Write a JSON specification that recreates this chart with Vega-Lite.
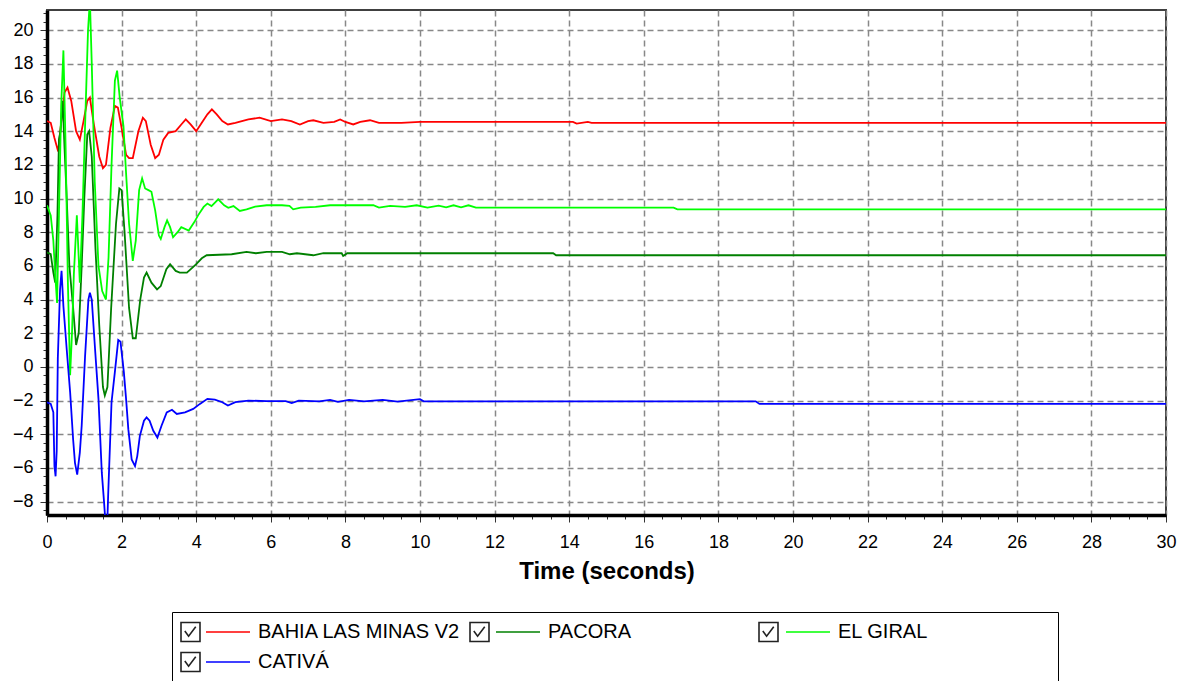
{
  "$schema": "https://vega.github.io/schema/vega-lite/v6.json",
  "width": 1119,
  "height": 505,
  "autosize": {"type": "none"},
  "padding": {"left": 47, "top": 10, "right": 16, "bottom": 166},
  "background": "white",
  "config": {
    "font": "Liberation Sans",
    "view": {"stroke": "#404040", "strokeWidth": 2},
    "axis": {
      "labelFont": "Liberation Sans",
      "labelFontSize": 18,
      "labelColor": "black",
      "titleFont": "Liberation Sans",
      "titleColor": "black",
      "domainColor": "black",
      "domainWidth": 3.5,
      "tickColor": "#333333",
      "tickWidth": 1,
      "gridColor": "#888888",
      "gridDash": [6, 4],
      "gridWidth": 1.5,
      "labelFlush": false,
      "labelOverlap": false
    }
  },
  "datasets": {
    "curves": [
      {"series": "BAHIA LAS MINAS V2", "t": 0, "v": 14.6},
      {"series": "BAHIA LAS MINAS V2", "t": 0.1, "v": 14.5},
      {"series": "BAHIA LAS MINAS V2", "t": 0.2, "v": 13.6},
      {"series": "BAHIA LAS MINAS V2", "t": 0.3, "v": 12.8},
      {"series": "BAHIA LAS MINAS V2", "t": 0.38, "v": 14.5},
      {"series": "BAHIA LAS MINAS V2", "t": 0.47, "v": 16.3},
      {"series": "BAHIA LAS MINAS V2", "t": 0.55, "v": 16.6},
      {"series": "BAHIA LAS MINAS V2", "t": 0.65, "v": 15.8},
      {"series": "BAHIA LAS MINAS V2", "t": 0.78, "v": 14.0},
      {"series": "BAHIA LAS MINAS V2", "t": 0.88, "v": 13.5},
      {"series": "BAHIA LAS MINAS V2", "t": 0.98, "v": 14.6},
      {"series": "BAHIA LAS MINAS V2", "t": 1.08, "v": 15.8},
      {"series": "BAHIA LAS MINAS V2", "t": 1.15, "v": 16.0},
      {"series": "BAHIA LAS MINAS V2", "t": 1.25, "v": 14.5},
      {"series": "BAHIA LAS MINAS V2", "t": 1.4, "v": 12.5},
      {"series": "BAHIA LAS MINAS V2", "t": 1.5, "v": 11.8},
      {"series": "BAHIA LAS MINAS V2", "t": 1.58, "v": 12.0},
      {"series": "BAHIA LAS MINAS V2", "t": 1.7, "v": 14.2},
      {"series": "BAHIA LAS MINAS V2", "t": 1.82, "v": 15.5},
      {"series": "BAHIA LAS MINAS V2", "t": 1.9, "v": 15.4},
      {"series": "BAHIA LAS MINAS V2", "t": 2.0, "v": 14.2},
      {"series": "BAHIA LAS MINAS V2", "t": 2.12, "v": 12.6},
      {"series": "BAHIA LAS MINAS V2", "t": 2.2, "v": 12.4},
      {"series": "BAHIA LAS MINAS V2", "t": 2.3, "v": 12.4},
      {"series": "BAHIA LAS MINAS V2", "t": 2.45, "v": 14.0},
      {"series": "BAHIA LAS MINAS V2", "t": 2.57, "v": 14.8},
      {"series": "BAHIA LAS MINAS V2", "t": 2.65, "v": 14.6},
      {"series": "BAHIA LAS MINAS V2", "t": 2.78, "v": 13.2},
      {"series": "BAHIA LAS MINAS V2", "t": 2.9, "v": 12.4},
      {"series": "BAHIA LAS MINAS V2", "t": 3.0, "v": 12.6},
      {"series": "BAHIA LAS MINAS V2", "t": 3.12, "v": 13.5},
      {"series": "BAHIA LAS MINAS V2", "t": 3.25, "v": 13.9},
      {"series": "BAHIA LAS MINAS V2", "t": 3.45, "v": 14.0},
      {"series": "BAHIA LAS MINAS V2", "t": 3.6, "v": 14.4},
      {"series": "BAHIA LAS MINAS V2", "t": 3.72, "v": 14.7},
      {"series": "BAHIA LAS MINAS V2", "t": 3.85, "v": 14.4},
      {"series": "BAHIA LAS MINAS V2", "t": 4.0, "v": 14.0},
      {"series": "BAHIA LAS MINAS V2", "t": 4.15, "v": 14.5},
      {"series": "BAHIA LAS MINAS V2", "t": 4.3, "v": 15.0},
      {"series": "BAHIA LAS MINAS V2", "t": 4.42, "v": 15.3},
      {"series": "BAHIA LAS MINAS V2", "t": 4.55, "v": 15.0},
      {"series": "BAHIA LAS MINAS V2", "t": 4.7, "v": 14.6},
      {"series": "BAHIA LAS MINAS V2", "t": 4.85, "v": 14.4},
      {"series": "BAHIA LAS MINAS V2", "t": 5.05, "v": 14.5},
      {"series": "BAHIA LAS MINAS V2", "t": 5.4, "v": 14.7},
      {"series": "BAHIA LAS MINAS V2", "t": 5.7, "v": 14.8},
      {"series": "BAHIA LAS MINAS V2", "t": 6.0, "v": 14.6},
      {"series": "BAHIA LAS MINAS V2", "t": 6.3, "v": 14.7},
      {"series": "BAHIA LAS MINAS V2", "t": 6.55, "v": 14.6},
      {"series": "BAHIA LAS MINAS V2", "t": 6.78, "v": 14.4},
      {"series": "BAHIA LAS MINAS V2", "t": 7.0, "v": 14.6},
      {"series": "BAHIA LAS MINAS V2", "t": 7.14, "v": 14.65},
      {"series": "BAHIA LAS MINAS V2", "t": 7.41, "v": 14.5},
      {"series": "BAHIA LAS MINAS V2", "t": 7.7, "v": 14.55},
      {"series": "BAHIA LAS MINAS V2", "t": 7.86, "v": 14.7},
      {"series": "BAHIA LAS MINAS V2", "t": 8.0, "v": 14.55},
      {"series": "BAHIA LAS MINAS V2", "t": 8.21, "v": 14.4},
      {"series": "BAHIA LAS MINAS V2", "t": 8.4, "v": 14.55},
      {"series": "BAHIA LAS MINAS V2", "t": 8.66, "v": 14.65},
      {"series": "BAHIA LAS MINAS V2", "t": 8.9, "v": 14.5},
      {"series": "BAHIA LAS MINAS V2", "t": 9.5, "v": 14.5},
      {"series": "BAHIA LAS MINAS V2", "t": 10.0, "v": 14.55},
      {"series": "BAHIA LAS MINAS V2", "t": 14.1, "v": 14.55},
      {"series": "BAHIA LAS MINAS V2", "t": 14.2, "v": 14.45},
      {"series": "BAHIA LAS MINAS V2", "t": 14.5, "v": 14.55},
      {"series": "BAHIA LAS MINAS V2", "t": 14.6, "v": 14.5},
      {"series": "BAHIA LAS MINAS V2", "t": 30, "v": 14.5},

      {"series": "PACORA", "t": 0, "v": 6.8},
      {"series": "PACORA", "t": 0.1, "v": 6.7},
      {"series": "PACORA", "t": 0.17, "v": 5.6},
      {"series": "PACORA", "t": 0.22, "v": 5.0},
      {"series": "PACORA", "t": 0.28, "v": 9.0},
      {"series": "PACORA", "t": 0.32, "v": 13.5},
      {"series": "PACORA", "t": 0.36, "v": 14.0},
      {"series": "PACORA", "t": 0.42, "v": 15.8},
      {"series": "PACORA", "t": 0.47, "v": 13.0},
      {"series": "PACORA", "t": 0.52, "v": 10.5},
      {"series": "PACORA", "t": 0.6, "v": 6.0},
      {"series": "PACORA", "t": 0.7, "v": 3.5},
      {"series": "PACORA", "t": 0.78, "v": 1.3},
      {"series": "PACORA", "t": 0.85, "v": 2.0},
      {"series": "PACORA", "t": 0.93, "v": 6.0},
      {"series": "PACORA", "t": 1.0, "v": 10.0},
      {"series": "PACORA", "t": 1.08, "v": 13.8},
      {"series": "PACORA", "t": 1.13, "v": 14.0},
      {"series": "PACORA", "t": 1.2, "v": 12.5},
      {"series": "PACORA", "t": 1.3, "v": 7.0},
      {"series": "PACORA", "t": 1.4, "v": 2.5},
      {"series": "PACORA", "t": 1.5, "v": -1.2},
      {"series": "PACORA", "t": 1.55, "v": -1.7},
      {"series": "PACORA", "t": 1.62, "v": -1.2},
      {"series": "PACORA", "t": 1.72, "v": 3.5},
      {"series": "PACORA", "t": 1.85, "v": 8.5},
      {"series": "PACORA", "t": 1.94, "v": 10.6},
      {"series": "PACORA", "t": 2.0, "v": 10.5},
      {"series": "PACORA", "t": 2.08, "v": 8.0},
      {"series": "PACORA", "t": 2.2, "v": 3.5},
      {"series": "PACORA", "t": 2.3, "v": 1.7},
      {"series": "PACORA", "t": 2.38, "v": 1.7},
      {"series": "PACORA", "t": 2.5, "v": 4.0},
      {"series": "PACORA", "t": 2.6, "v": 5.3},
      {"series": "PACORA", "t": 2.67, "v": 5.6},
      {"series": "PACORA", "t": 2.8, "v": 5.0},
      {"series": "PACORA", "t": 2.95, "v": 4.6},
      {"series": "PACORA", "t": 3.05, "v": 4.8},
      {"series": "PACORA", "t": 3.2, "v": 5.8},
      {"series": "PACORA", "t": 3.3, "v": 6.1},
      {"series": "PACORA", "t": 3.45, "v": 5.7},
      {"series": "PACORA", "t": 3.56, "v": 5.6},
      {"series": "PACORA", "t": 3.75, "v": 5.6},
      {"series": "PACORA", "t": 3.9, "v": 5.9},
      {"series": "PACORA", "t": 4.0, "v": 6.1},
      {"series": "PACORA", "t": 4.15, "v": 6.45},
      {"series": "PACORA", "t": 4.28, "v": 6.63},
      {"series": "PACORA", "t": 4.95, "v": 6.69},
      {"series": "PACORA", "t": 5.35, "v": 6.83},
      {"series": "PACORA", "t": 5.6, "v": 6.75},
      {"series": "PACORA", "t": 5.89, "v": 6.83},
      {"series": "PACORA", "t": 6.3, "v": 6.83},
      {"series": "PACORA", "t": 6.51, "v": 6.69},
      {"series": "PACORA", "t": 6.7, "v": 6.75},
      {"series": "PACORA", "t": 7.14, "v": 6.63},
      {"series": "PACORA", "t": 7.41, "v": 6.75},
      {"series": "PACORA", "t": 7.9, "v": 6.75},
      {"series": "PACORA", "t": 7.94, "v": 6.59},
      {"series": "PACORA", "t": 8.05, "v": 6.75},
      {"series": "PACORA", "t": 13.57, "v": 6.75},
      {"series": "PACORA", "t": 13.65, "v": 6.63},
      {"series": "PACORA", "t": 30, "v": 6.63},

      {"series": "EL GIRAL", "t": 0, "v": 9.6},
      {"series": "EL GIRAL", "t": 0.1, "v": 9.0},
      {"series": "EL GIRAL", "t": 0.17, "v": 7.5},
      {"series": "EL GIRAL", "t": 0.22, "v": 5.5},
      {"series": "EL GIRAL", "t": 0.27, "v": 3.8},
      {"series": "EL GIRAL", "t": 0.32, "v": 9.0},
      {"series": "EL GIRAL", "t": 0.38, "v": 15.5},
      {"series": "EL GIRAL", "t": 0.44, "v": 18.8},
      {"series": "EL GIRAL", "t": 0.5, "v": 13.0},
      {"series": "EL GIRAL", "t": 0.56, "v": 5.0},
      {"series": "EL GIRAL", "t": 0.62, "v": -0.5},
      {"series": "EL GIRAL", "t": 0.67, "v": 2.0},
      {"series": "EL GIRAL", "t": 0.72, "v": 5.5},
      {"series": "EL GIRAL", "t": 0.8, "v": 9.0},
      {"series": "EL GIRAL", "t": 0.88, "v": 5.0},
      {"series": "EL GIRAL", "t": 0.95, "v": 9.0},
      {"series": "EL GIRAL", "t": 1.03, "v": 15.0},
      {"series": "EL GIRAL", "t": 1.1, "v": 20.0},
      {"series": "EL GIRAL", "t": 1.15, "v": 21.8},
      {"series": "EL GIRAL", "t": 1.2, "v": 18.0},
      {"series": "EL GIRAL", "t": 1.28, "v": 11.0},
      {"series": "EL GIRAL", "t": 1.38, "v": 6.0},
      {"series": "EL GIRAL", "t": 1.48, "v": 4.5},
      {"series": "EL GIRAL", "t": 1.58, "v": 4.0},
      {"series": "EL GIRAL", "t": 1.65, "v": 6.5},
      {"series": "EL GIRAL", "t": 1.73, "v": 12.0},
      {"series": "EL GIRAL", "t": 1.82, "v": 17.0},
      {"series": "EL GIRAL", "t": 1.88, "v": 17.6},
      {"series": "EL GIRAL", "t": 1.95, "v": 16.0},
      {"series": "EL GIRAL", "t": 2.05, "v": 14.3},
      {"series": "EL GIRAL", "t": 2.12, "v": 11.5},
      {"series": "EL GIRAL", "t": 2.2, "v": 8.5},
      {"series": "EL GIRAL", "t": 2.3, "v": 6.3},
      {"series": "EL GIRAL", "t": 2.38, "v": 7.5},
      {"series": "EL GIRAL", "t": 2.47, "v": 10.5},
      {"series": "EL GIRAL", "t": 2.55, "v": 11.2},
      {"series": "EL GIRAL", "t": 2.63, "v": 10.6},
      {"series": "EL GIRAL", "t": 2.72, "v": 10.5},
      {"series": "EL GIRAL", "t": 2.8, "v": 10.4},
      {"series": "EL GIRAL", "t": 2.9, "v": 9.3},
      {"series": "EL GIRAL", "t": 3.0, "v": 7.8},
      {"series": "EL GIRAL", "t": 3.05, "v": 7.6},
      {"series": "EL GIRAL", "t": 3.15, "v": 8.3},
      {"series": "EL GIRAL", "t": 3.22, "v": 8.7},
      {"series": "EL GIRAL", "t": 3.3, "v": 8.3},
      {"series": "EL GIRAL", "t": 3.38, "v": 7.7},
      {"series": "EL GIRAL", "t": 3.5, "v": 8.0},
      {"series": "EL GIRAL", "t": 3.6, "v": 8.3},
      {"series": "EL GIRAL", "t": 3.8, "v": 8.1},
      {"series": "EL GIRAL", "t": 3.95, "v": 8.6},
      {"series": "EL GIRAL", "t": 4.05, "v": 9.0},
      {"series": "EL GIRAL", "t": 4.2, "v": 9.5},
      {"series": "EL GIRAL", "t": 4.3, "v": 9.7},
      {"series": "EL GIRAL", "t": 4.41, "v": 9.55},
      {"series": "EL GIRAL", "t": 4.59, "v": 9.95},
      {"series": "EL GIRAL", "t": 4.75, "v": 9.6},
      {"series": "EL GIRAL", "t": 4.86, "v": 9.45},
      {"series": "EL GIRAL", "t": 5.0, "v": 9.55},
      {"series": "EL GIRAL", "t": 5.17, "v": 9.26},
      {"series": "EL GIRAL", "t": 5.35, "v": 9.36},
      {"series": "EL GIRAL", "t": 5.58, "v": 9.52},
      {"series": "EL GIRAL", "t": 5.89, "v": 9.6},
      {"series": "EL GIRAL", "t": 6.3, "v": 9.6},
      {"series": "EL GIRAL", "t": 6.5, "v": 9.56},
      {"series": "EL GIRAL", "t": 6.6, "v": 9.36},
      {"series": "EL GIRAL", "t": 6.8, "v": 9.46},
      {"series": "EL GIRAL", "t": 7.2, "v": 9.5},
      {"series": "EL GIRAL", "t": 7.59, "v": 9.6},
      {"series": "EL GIRAL", "t": 8.75, "v": 9.6},
      {"series": "EL GIRAL", "t": 8.9, "v": 9.46},
      {"series": "EL GIRAL", "t": 9.2, "v": 9.56},
      {"series": "EL GIRAL", "t": 9.6, "v": 9.5},
      {"series": "EL GIRAL", "t": 9.91, "v": 9.6},
      {"series": "EL GIRAL", "t": 10.2, "v": 9.46},
      {"series": "EL GIRAL", "t": 10.5, "v": 9.58},
      {"series": "EL GIRAL", "t": 10.7, "v": 9.48},
      {"series": "EL GIRAL", "t": 10.9, "v": 9.6},
      {"series": "EL GIRAL", "t": 11.1, "v": 9.48},
      {"series": "EL GIRAL", "t": 11.3, "v": 9.6},
      {"series": "EL GIRAL", "t": 11.5, "v": 9.46},
      {"series": "EL GIRAL", "t": 16.8, "v": 9.46},
      {"series": "EL GIRAL", "t": 16.9, "v": 9.36},
      {"series": "EL GIRAL", "t": 30, "v": 9.36},

      {"series": "CATIVÁ", "t": 0, "v": -2.1},
      {"series": "CATIVÁ", "t": 0.1, "v": -2.2},
      {"series": "CATIVÁ", "t": 0.17, "v": -2.7},
      {"series": "CATIVÁ", "t": 0.2, "v": -5.9},
      {"series": "CATIVÁ", "t": 0.23, "v": -6.5},
      {"series": "CATIVÁ", "t": 0.26, "v": -5.0},
      {"series": "CATIVÁ", "t": 0.29, "v": 0.5},
      {"series": "CATIVÁ", "t": 0.35, "v": 4.6},
      {"series": "CATIVÁ", "t": 0.39, "v": 5.7},
      {"series": "CATIVÁ", "t": 0.44, "v": 3.6},
      {"series": "CATIVÁ", "t": 0.53, "v": 1.0},
      {"series": "CATIVÁ", "t": 0.62, "v": -1.5},
      {"series": "CATIVÁ", "t": 0.7, "v": -4.3},
      {"series": "CATIVÁ", "t": 0.75, "v": -5.7},
      {"series": "CATIVÁ", "t": 0.81, "v": -6.4},
      {"series": "CATIVÁ", "t": 0.88, "v": -5.1},
      {"series": "CATIVÁ", "t": 0.93, "v": -3.5},
      {"series": "CATIVÁ", "t": 1.02, "v": 0.6},
      {"series": "CATIVÁ", "t": 1.11, "v": 4.0},
      {"series": "CATIVÁ", "t": 1.15, "v": 4.4},
      {"series": "CATIVÁ", "t": 1.2, "v": 4.0},
      {"series": "CATIVÁ", "t": 1.29, "v": 1.0},
      {"series": "CATIVÁ", "t": 1.38, "v": -1.9},
      {"series": "CATIVÁ", "t": 1.47, "v": -6.3},
      {"series": "CATIVÁ", "t": 1.53, "v": -8.05},
      {"series": "CATIVÁ", "t": 1.56, "v": -9.0},
      {"series": "CATIVÁ", "t": 1.62, "v": -9.0},
      {"series": "CATIVÁ", "t": 1.64, "v": -7.6},
      {"series": "CATIVÁ", "t": 1.73, "v": -2.1},
      {"series": "CATIVÁ", "t": 1.82, "v": -0.3},
      {"series": "CATIVÁ", "t": 1.91, "v": 1.6},
      {"series": "CATIVÁ", "t": 1.97, "v": 1.5},
      {"series": "CATIVÁ", "t": 2.06, "v": -0.3},
      {"series": "CATIVÁ", "t": 2.12, "v": -1.9},
      {"series": "CATIVÁ", "t": 2.18, "v": -3.7},
      {"series": "CATIVÁ", "t": 2.27, "v": -5.5},
      {"series": "CATIVÁ", "t": 2.36, "v": -5.9},
      {"series": "CATIVÁ", "t": 2.42, "v": -5.3},
      {"series": "CATIVÁ", "t": 2.49, "v": -4.1},
      {"series": "CATIVÁ", "t": 2.6, "v": -3.2},
      {"series": "CATIVÁ", "t": 2.67, "v": -3.0},
      {"series": "CATIVÁ", "t": 2.75, "v": -3.2},
      {"series": "CATIVÁ", "t": 2.85, "v": -3.8},
      {"series": "CATIVÁ", "t": 2.96, "v": -4.2},
      {"series": "CATIVÁ", "t": 3.07, "v": -3.5},
      {"series": "CATIVÁ", "t": 3.21, "v": -2.7},
      {"series": "CATIVÁ", "t": 3.35, "v": -2.55},
      {"series": "CATIVÁ", "t": 3.48, "v": -2.8},
      {"series": "CATIVÁ", "t": 3.7, "v": -2.7},
      {"series": "CATIVÁ", "t": 3.92, "v": -2.5},
      {"series": "CATIVÁ", "t": 4.1, "v": -2.2},
      {"series": "CATIVÁ", "t": 4.3, "v": -1.9},
      {"series": "CATIVÁ", "t": 4.5, "v": -1.95},
      {"series": "CATIVÁ", "t": 4.7, "v": -2.1},
      {"series": "CATIVÁ", "t": 4.85, "v": -2.3},
      {"series": "CATIVÁ", "t": 5.05, "v": -2.1},
      {"series": "CATIVÁ", "t": 5.4, "v": -2.0},
      {"series": "CATIVÁ", "t": 5.9, "v": -2.04},
      {"series": "CATIVÁ", "t": 6.4, "v": -2.04},
      {"series": "CATIVÁ", "t": 6.56, "v": -2.15},
      {"series": "CATIVÁ", "t": 6.75, "v": -2.0},
      {"series": "CATIVÁ", "t": 7.3, "v": -2.05},
      {"series": "CATIVÁ", "t": 7.59, "v": -1.96},
      {"series": "CATIVÁ", "t": 7.8, "v": -2.08},
      {"series": "CATIVÁ", "t": 8.1, "v": -1.96},
      {"series": "CATIVÁ", "t": 8.5, "v": -2.05},
      {"series": "CATIVÁ", "t": 9.0, "v": -1.96},
      {"series": "CATIVÁ", "t": 9.4, "v": -2.06},
      {"series": "CATIVÁ", "t": 10.0, "v": -1.92},
      {"series": "CATIVÁ", "t": 10.1, "v": -2.05},
      {"series": "CATIVÁ", "t": 19.0, "v": -2.05},
      {"series": "CATIVÁ", "t": 19.1, "v": -2.2},
      {"series": "CATIVÁ", "t": 30, "v": -2.2}
    ],
    "items": [
      {"item": "CATIVÁ"},
      {"item": "BAHIA LAS MINAS V2"},
      {"item": "PACORA"},
      {"item": "EL GIRAL"}
    ]
  },
  "layer": [
    {
      "data": {"name": "curves"},
      "mark": {"type": "point", "opacity": 0},
      "encoding": {
        "x": {
          "field": "t", "type": "quantitative",
          "scale": {"domain": [0, 30], "nice": false, "zero": false},
          "axis": {
            "orient": "bottom", "values": [0.5,1,1.5,2.5,3,3.5,4.5,5,5.5,6.5,7,7.5,8.5,9,9.5,10.5,11,11.5,12.5,13,13.5,14.5,15,15.5,16.5,17,17.5,18.5,19,19.5,20.5,21,21.5,22.5,23,23.5,24.5,25,25.5,26.5,27,27.5,28.5,29,29.5],
            "labels": false, "grid": false, "domain": false, "tickSize": 4, "title": null
          }
        },
        "y": {
          "field": "v", "type": "quantitative",
          "scale": {"domain": [-8.8, 21.2], "nice": false, "zero": false},
          "axis": {
            "orient": "left", "values": [-8.5,-7.5,-7,-6.5,-5.5,-5,-4.5,-3.5,-3,-2.5,-1.5,-1,-0.5,0.5,1,1.5,2.5,3,3.5,4.5,5,5.5,6.5,7,7.5,8.5,9,9.5,10.5,11,11.5,12.5,13,13.5,14.5,15,15.5,16.5,17,17.5,18.5,19,19.5,20.5,21],
            "labels": false, "grid": false, "domain": false, "tickSize": 4, "title": null
          }
        }
      }
    },
    {
      "data": {"name": "curves"},
      "mark": {"type": "line", "clip": true, "strokeWidth": 1.8},
      "encoding": {
        "x": {
          "field": "t", "type": "quantitative",
          "scale": {"domain": [0, 30], "nice": false, "zero": false},
          "axis": {
            "orient": "bottom", "values": [0,2,4,6,8,10,12,14,16,18,20,22,24,26,28,30],
            "grid": true,
            "tickSize": 7, "labelPadding": 11, "title": "Time (seconds)",
            "titleFontSize": 24, "titleFontWeight": "bold", "titlePadding": 8
          }
        },
        "y": {
          "field": "v", "type": "quantitative",
          "scale": {"domain": [-8.8, 21.2], "nice": false, "zero": false},
          "axis": {
            "orient": "left", "values": [-8,-6,-4,-2,0,2,4,6,8,10,12,14,16,18,20],
            "grid": true,
            "tickSize": 7, "labelPadding": 7, "title": null
          }
        },
        "color": {
          "field": "series", "type": "nominal",
          "scale": {
            "domain": ["BAHIA LAS MINAS V2", "PACORA", "EL GIRAL", "CATIVÁ"],
            "range": ["#FF0000", "#008000", "#00FF00", "#0000FF"]
          },
          "legend": {
            "orient": "none", "legendX": 158, "legendY": 610,
            "direction": "horizontal",
            "title": null, "columns": 3, "gridAlign": "all",
            "symbolType": "stroke", "symbolSize": 1936, "symbolStrokeWidth": 1.5,
            "labelFont": "Liberation Sans", "labelFontSize": 20, "labelColor": "black",
            "labelLimit": 400, "labelOffset": 7, "columnPadding": 34, "rowPadding": 6,
            "clipHeight": 24, "padding": 0, "zindex": 2
          }
        }
      }
    },
    {
      "data": {"name": "items"},
      "mark": {"type": "point", "opacity": 0},
      "encoding": {
        "shape": {
          "field": "item", "type": "nominal",
          "scale": {
            "domain": ["CATIVÁ", "BAHIA LAS MINAS V2", "PACORA", "EL GIRAL"],
            "range": ["M-1,-1H1V1H-1ZM-0.6,-0.1L-0.2,0.45L0.55,-0.55"]
          },
          "legend": {
            "orient": "none", "legendX": 125, "legendY": 602,
            "direction": "horizontal",
            "title": ".", "titleOrient": "right", "titlePadding": 268,
            "titleFontSize": 10, "titleOpacity": 0,
            "columns": 3, "gridAlign": "all",
            "symbolSize": 361, "symbolStrokeWidth": 1.6, "symbolOpacity": 1,
            "symbolStrokeColor": "#222222", "symbolFillColor": "white",
            "labelExpr": "''", "labelFontSize": 10, "labelOffset": 0,
            "columnPadding": 268, "rowPadding": 6,
            "clipHeight": 24, "padding": 8, "strokeColor": "black", "fillColor": "white",
            "zindex": 1
          }
        }
      }
    }
  ],
  "resolve": {"axis": {"x": "independent", "y": "independent"}}
}
